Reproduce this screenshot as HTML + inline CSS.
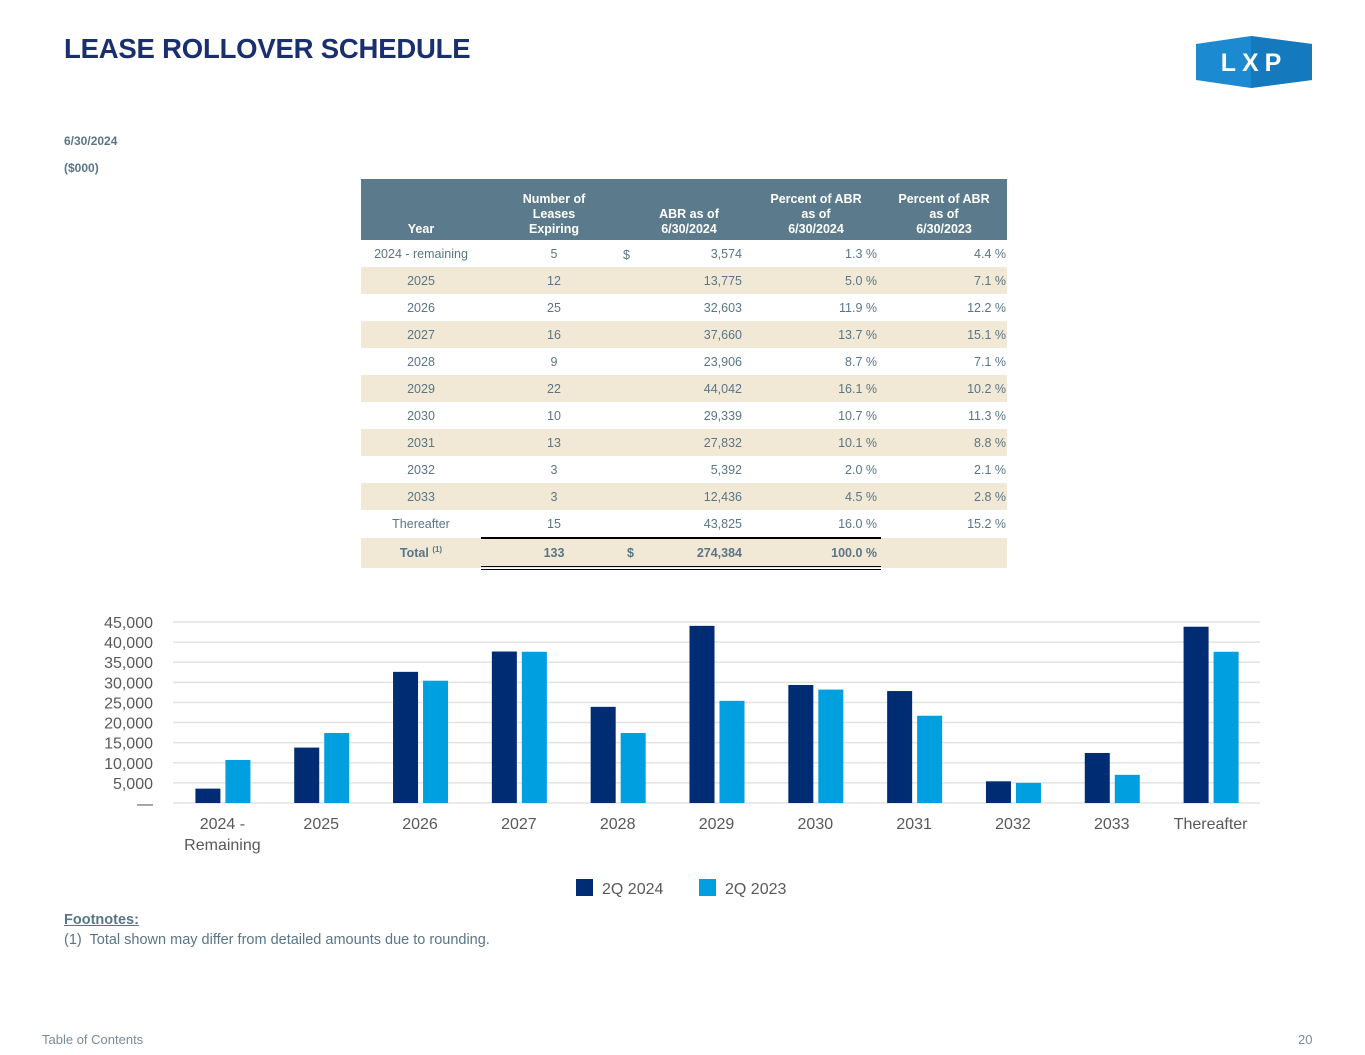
<!DOCTYPE html>
<html><head><meta charset="utf-8"><style>
body{margin:0;width:1365px;height:1055px;background:#fff;position:relative;font-family:"Liberation Sans",sans-serif;overflow:hidden}
.abs{position:absolute}
h1{position:absolute;left:64px;top:33px;margin:0;font-size:27.5px;font-weight:bold;color:#1a2f6e;letter-spacing:-0.2px}
.sub{position:absolute;left:64px;font-size:12px;font-weight:bold;color:#5a7586}
table{position:absolute;left:361px;top:179px;width:646px;border-collapse:collapse;font-size:12.5px;color:#5a7586}
th{background:#5b7b8d;color:#fff;font-weight:bold;font-size:12.5px;line-height:15px;vertical-align:bottom;padding:0 0 3px 0;height:58px}
td{height:27px;padding:0;text-align:right}
tr.alt td{background:#f1e9d6}
td.c{text-align:center}
td.abr{padding-right:9px}
</style></head><body>
<h1>LEASE ROLLOVER SCHEDULE</h1>
<svg class="abs" style="left:1188px;top:36px" width="126" height="54">
<polygon points="8,8 63,0 124,8 124,44 63,52 8,44" fill="#1c8ad0"/>
<polygon points="63,0 124,8 124,44 63,52" fill="#1479bd"/>
<text x="66" y="35" text-anchor="middle" font-size="25" font-weight="bold" fill="#fff" letter-spacing="6" font-family="Liberation Sans">LXP</text>
</svg>
<div class="sub" style="top:134px">6/30/2024</div>
<div class="sub" style="top:161px">($000)</div>
<table>
<tr><th style="width:120px">Year</th><th style="width:146px">Number of<br>Leases<br>Expiring</th><th style="width:124px">ABR as of<br>6/30/2024</th><th style="width:130px">Percent of ABR<br>as of<br>6/30/2024</th><th style="width:126px">Percent of ABR<br>as of<br>6/30/2023</th></tr>
<tbody id="tb"></tbody>
</table>
<svg class="abs" style="left:0;top:600px" width="1365" height="310" id="chart"></svg>
<div class="abs" style="left:64px;top:912px;font-size:14.5px;font-weight:bold;color:#5a7586;text-decoration:underline">Footnotes:</div>
<div class="abs" style="left:64px;top:932px;font-size:14.5px;color:#5a7586">(1)&nbsp; Total shown may differ from detailed amounts due to rounding.</div>
<div class="abs" style="left:42px;top:1032px;font-size:13px;color:#7a8a96">Table of Contents</div>
<div class="abs" style="left:1298px;top:1032px;font-size:13px;color:#7a8a96">20</div>
<script>
const years=["2024 - remaining","2025","2026","2027","2028","2029","2030","2031","2032","2033","Thereafter"];
const leases=[5,12,25,16,9,22,10,13,3,3,15];
const abr2024=[3574,13775,32603,37660,23906,44042,29339,27832,5392,12436,43825];
const pct2024=["1.3","5.0","11.9","13.7","8.7","16.1","10.7","10.1","2.0","4.5","16.0"];
const pct2023=["4.4","7.1","12.2","15.1","7.1","10.2","11.3","8.8","2.1","2.8","15.2"];
const categories=["2024 -|Remaining","2025","2026","2027","2028","2029","2030","2031","2032","2033","Thereafter"];
const abr2023=[10700,17400,30400,37600,17400,25400,28200,21700,5000,7000,37600];
const yTicks=[0,5000,10000,15000,20000,25000,30000,35000,40000,45000];
const tb=document.getElementById('tb');
const fmt=v=>v.toLocaleString('en-US');
years.forEach((y,i)=>{
 const tr=document.createElement('tr');
 
 
 if(i%2)tr.className='alt';
 tr.innerHTML=`<td class="c">${y}</td><td class="c">${leases[i]}</td><td class="abr">${fmt(abr2024[i])}</td><td style="padding-right:4px">${pct2024[i]} %</td><td style="padding-right:1px">${pct2023[i]} %</td>`;
 tb.appendChild(tr);
 if(i==0){const d=document.createElement('div');d.className='abs';d.style.cssText='left:623px;top:248px;font-size:12.5px;color:#5a7586';d.textContent='$';document.body.appendChild(d);}
});
const tot=document.createElement('tr');
tot.className='alt';


const sumL=leases.reduce((a,b)=>a+b,0), sumA=abr2024.reduce((a,b)=>a+b,0);
tot.innerHTML=`<td class="c" style="font-weight:bold">Total <sup style="font-size:8px">(1)</sup></td><td class="c" style="font-weight:bold;border-top:2px solid #000;border-bottom:4px double #000">${sumL}</td><td class="abr" style="font-weight:bold;border-top:2px solid #000;border-bottom:4px double #000"><span style="float:left;padding-left:0px">$</span>${fmt(sumA)}</td><td style="font-weight:bold;border-top:2px solid #000;border-bottom:4px double #000;padding-right:4px">100.0 %</td><td></td>`;
tb.appendChild(tot);

const svg=document.getElementById('chart');
const NS='http://www.w3.org/2000/svg';
const x0=173,x1=1260,yBase=203,yTop=22,yMax=45000;
const band=(x1-x0)/categories.length;
const yS=v=>yBase-(v/yMax)*(yBase-yTop);
const xC=i=>x0+(i+0.5)*band;
function mk(t,a,txt){const e=document.createElementNS(NS,t);for(const k in a)e.setAttribute(k,a[k]);if(txt!=null)e.textContent=txt;svg.appendChild(e);return e;}
yTicks.forEach(v=>{
 const g=mk('line',{x1:x0,x2:x1,y1:yS(v),y2:yS(v),stroke:'#e3e3e3','stroke-width':1.5});
 
 
 const t=mk('text',{x:153,y:yS(v)+6,'text-anchor':'end','font-size':16,fill:'#595959'},v===0?'—':fmt(v));
 
 
});
categories.forEach((c,i)=>{
 const b1=mk('rect',{x:xC(i)-27,y:yS(abr2024[i]),width:25,height:yBase-yS(abr2024[i]),fill:'#002c73'});
 
 
 const b2=mk('rect',{x:xC(i)+3,y:yS(abr2023[i]),width:25,height:yBase-yS(abr2023[i]),fill:'#009fdf'});
 
 
 c.split('|').forEach((ln,j)=>{
  const t=mk('text',{x:xC(i),y:229+j*21,'text-anchor':'middle','font-size':16,fill:'#595959'},ln);
  
  
 });
});
[['2Q 2024','#002c73',576],['2Q 2023','#009fdf',699]].forEach(([n,c,x])=>{
 const r=mk('rect',{x:x,y:279,width:17,height:17,fill:c});
 
 
 const t=mk('text',{x:x+26,y:294,'font-size':16,fill:'#595959'},n);
 
 
});
</script>
</body></html>
